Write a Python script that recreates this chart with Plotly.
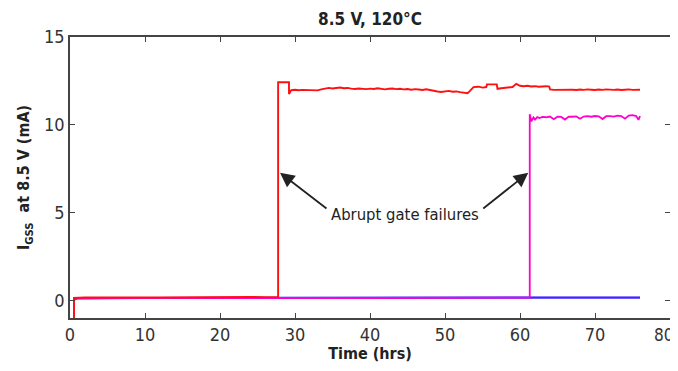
import plotly.graph_objects as go

# ---- data ----
red_t = [0.53, 0.53, 2, 4, 6, 8, 10, 12, 14, 16, 18, 20, 22, 24, 26, 27.75,
         27.75, 29.2, 29.2, 29.5, 30, 30.5, 31, 31.5, 32, 32.5, 33, 33.5, 34, 34.5, 35, 35.5, 36,
         36.5, 37, 37.5, 38, 38.5, 39, 39.5, 40, 40.5, 41, 41.5, 42, 42.5, 43, 43.5, 44, 44.5,
         45, 45.5, 46, 46.5, 47, 47.5, 48, 48.5, 49, 49.5, 50, 50.5, 51, 51.5, 52, 52.5, 53,
         53.3, 53.8, 54.5, 55, 55.5, 55.6, 56.9, 57.0, 57.5, 58, 58.5, 59, 59.5, 60, 60.5, 61,
         61.5, 62, 62.5, 63, 63.5, 63.9, 64.0, 64.5, 65, 65.5, 66, 66.5, 67, 67.5, 68, 68.5, 69,
         69.5, 70, 70.5, 71, 71.5, 72, 72.5, 73, 73.5, 74, 74.5, 75, 75.5, 76]
red_v = [-1.5, 0.15, 0.17, 0.18, 0.19, 0.2, 0.17, 0.17, 0.18, 0.19, 0.18, 0.2, 0.19, 0.2, 0.19, 0.2,
         12.42, 12.42, 11.75, 11.98, 12.0, 11.97, 11.99, 11.98, 11.97, 12.0, 11.96, 12.02, 12.08,
         12.1, 12.07, 12.09, 12.12, 12.08, 12.1, 12.06, 12.04, 12.07, 12.05, 12.03, 12.06, 12.04,
         12.08, 12.05, 12.02, 12.05, 12.07, 12.03, 12.05, 12.02, 12.04, 12.0, 12.03, 12.01, 11.98,
         12.02, 11.97, 11.95, 11.9, 11.87, 11.9, 11.93, 11.88, 11.9, 11.86, 11.83, 11.8,
         11.92, 12.15, 12.17, 12.12, 12.15, 12.3, 12.3, 12.05, 12.08, 12.1, 12.12, 12.15, 12.33,
         12.22, 12.2, 12.22, 12.18, 12.2, 12.17, 12.19, 12.2, 12.18, 12.02, 11.99, 12.0, 11.98,
         12.01, 11.99, 12.0, 11.98, 12.01, 11.99, 12.02, 12.0, 11.98, 12.01, 11.99, 12.02, 12.0,
         11.99, 12.01, 11.98, 12.0, 12.02, 11.99, 12.01, 12.0]

mag_t = [0.55, 0.55, 5, 10, 20, 30, 40, 50, 61.3, 61.3, 61.5, 61.8, 62.0, 62.3, 62.6, 63, 63.5,
         64, 64.5, 65, 65.5, 66, 66.5, 67, 67.5, 68, 68.5, 69, 69.5, 70, 70.5, 71, 71.5, 72,
         72.5, 73, 73.5, 74, 74.5, 75, 75.5, 75.8, 76]
mag_v = [-1.5, 0.12, 0.13, 0.14, 0.14, 0.14, 0.14, 0.15, 0.16, 10.6, 10.2, 10.42, 10.3, 10.44,
         10.38, 10.45, 10.43, 10.47, 10.32, 10.46, 10.45, 10.3, 10.47, 10.46, 10.48, 10.35, 10.47,
         10.49, 10.46, 10.5, 10.48, 10.33, 10.49, 10.5, 10.47, 10.52, 10.5, 10.35, 10.53, 10.55,
         10.5, 10.28, 10.5]

blue_t = [0.6, 1.0, 10, 30, 50, 76]
blue_v = [0.05, 0.12, 0.14, 0.15, 0.15, 0.16]

purple_t = [0.6, 1.0, 10, 30, 50, 76]
purple_v = [0.08, 0.13, 0.15, 0.16, 0.17, 0.17]

x_ticks = [0, 10, 20, 30, 40, 50, 60, 70, 80]
x_tick_labels = ["0", "10", "20", "30", "40", "50", "60", "70", ""]  # last label drawn below
last_x_label = "80"
y_ticks = [0, 5, 10, 15]

FONT = "DejaVu Sans Condensed, Liberation Sans Narrow, Arial Narrow, sans-serif"

fig = go.Figure()
fig.add_trace(go.Scatter(x=blue_t, y=blue_v, mode="lines", line=dict(color="#2a4dff", width=2.2)))
fig.add_trace(go.Scatter(x=purple_t, y=purple_v, mode="lines", line=dict(color="#8a00ff", width=1.6)))
fig.add_trace(go.Scatter(x=mag_t, y=mag_v, mode="lines", line=dict(color="#ff00cc", width=1.8)))
fig.add_trace(go.Scatter(x=red_t, y=red_v, mode="lines", line=dict(color="#ff1010", width=1.9)))

axis_common = dict(showline=True, linecolor="#444", linewidth=1.5, mirror="ticks",
                   ticks="inside", ticklen=5, tickwidth=1.2, tickcolor="#444",
                   showgrid=False, zeroline=False, automargin=False,
                   tickfont=dict(family=FONT, size=18, color="#333"))

# the page body adds an 8px offset; sizes and margins compensate for it
fig.update_layout(
    width=670, height=355,
    margin=dict(l=62, r=8, t=29, b=45),
    plot_bgcolor="white", paper_bgcolor="white",
    showlegend=False,
    title=dict(text="<b>8.5 V, 120°C</b>", xref="paper", x=0.5, xanchor="center",
               y=0.969, yanchor="middle",
               font=dict(family=FONT, size=17, color="#222")),
    xaxis=dict(range=[0, 80], tickvals=x_ticks, ticktext=x_tick_labels,
               title=dict(text="<b>Time (hrs)</b>", standoff=0,
                          font=dict(family=FONT, size=16, color="#222")),
               **axis_common),
    yaxis=dict(range=[-1, 15], tickvals=y_ticks,
               title=dict(text="<b>I<sub>GSS</sub>  at 8.5 V (mA)</b>", standoff=10,
                          font=dict(family=FONT, size=16, color="#222")),
               **axis_common),
)

# last x tick label, nudged left so it stays inside the page like in the reference
fig.add_annotation(x=x_ticks[-1], y=0, xref="x", yref="paper", text=last_x_label,
                   showarrow=False, xanchor="right", yanchor="top", xshift=4, yshift=-6,
                   borderpad=0, font=dict(family=FONT, size=17, color="#333"))

fig.add_annotation(x=44.7, y=4.9, text="Abrupt gate failures", showarrow=False,
                   font=dict(family=FONT, size=16.5, color="#222"))
for hx, tx in [(28.0, 34.4), (61.1, 54.9)]:
    fig.add_annotation(x=hx, y=7.27, ax=tx, ay=5.17, axref="x", ayref="y", xref="x", yref="y",
                       text="", showarrow=True, arrowhead=2, arrowsize=1.6, arrowwidth=1.8,
                       arrowcolor="#222")

fig.write_html("out.html")
